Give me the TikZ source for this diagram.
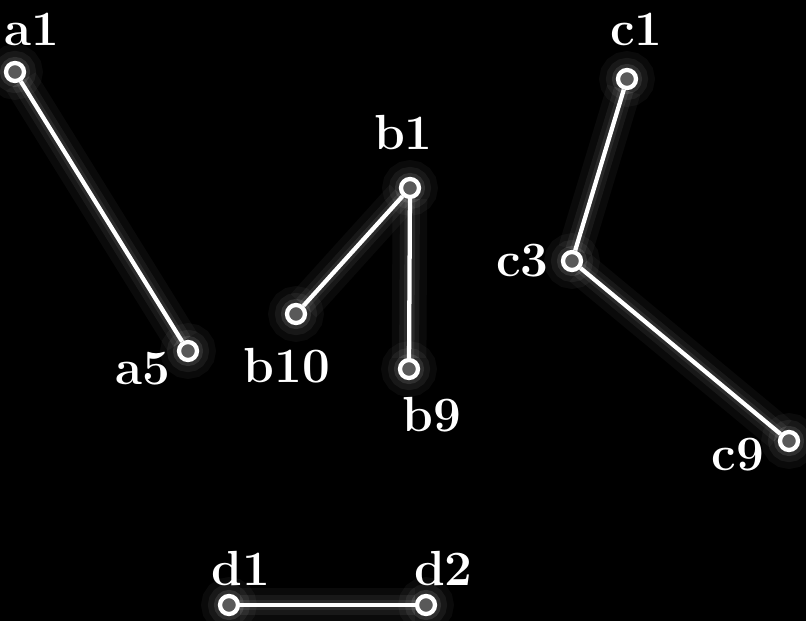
\documentclass[tikz,border=0pt]{standalone}
\usepackage{fontspec}
\usepackage{tikz}
\usetikzlibrary{positioning, backgrounds}

\begin{document}
\begin{tikzpicture}[
    x=0.75pt, y=-0.75pt,
    vertex/.style={circle, draw=white!72, fill=black!65, line width=3.2pt, minimum size=13.5pt, inner sep=0pt,
        preaction={draw=white, draw opacity=0.04, line width=28pt},
        preaction={draw=white, draw opacity=0.06, line width=18pt},
        preaction={draw=white, draw opacity=0.10, line width=9pt}},
    vlabel/.style={text=white!72, font=\bfseries\fontsize{37}{40}\selectfont, inner sep=0pt},
    link/.style={draw=white!50, line width=3.2pt,
        preaction={draw=white, draw opacity=0.04, line width=26pt},
        preaction={draw=white, draw opacity=0.06, line width=15pt},
        preaction={draw=white, draw opacity=0.08, line width=8pt}},
]
    \path[use as bounding box] (0,0) rectangle (806,621);

    % vertices
    \node[vertex] (a1) at (15,72) {};
    \node[vertex] (a5) at (188,351) {};
    \node[vertex] (b1) at (410,188) {};
    \node[vertex] (b10) at (296,314) {};
    \node[vertex] (b9) at (409,369) {};
    \node[vertex] (c1) at (627,79) {};
    \node[vertex] (c3) at (572,261) {};
    \node[vertex] (c9) at (789,441) {};
    \node[vertex] (d1) at (229,605) {};
    \node[vertex] (d2) at (426,605) {};

    % labels
    \node[vlabel, above=11pt of a1, xshift=13pt] (a1t) {a1};
    \node[vlabel, left=5pt of a5, yshift=-13pt] (a5t) {a5};
    \node[vlabel, above=20pt of b1, xshift=-5pt] (b1t) {b1};
    \node[vlabel, below=17pt of b10, xshift=-7pt] (b10t) {b10};
    \node[vlabel, below=13pt of b9, xshift=17pt] (b9t) {b9};
    \node[vlabel, above=16pt of c1, xshift=7pt] (c1t) {c1};
    \node[vlabel, left=9pt of c3] (c3t) {c3};
    \node[vlabel, left=10pt of c9, yshift=-10pt] (c9t) {c9};
    \node[vlabel, above=6pt of d1, xshift=9pt] (d1t) {d1};
    \node[vlabel, above=6pt of d2, xshift=13pt] (d2t) {d2};

    \begin{pgfonlayer}{background}
        \fill[black] (0,0) rectangle (806,621);
        \draw[link] (a1) -- (a5);
        \draw[link] (b1) -- (b10);
        \draw[link] (b1) -- (b9);
        \draw[link] (c1) -- (c3);
        \draw[link] (c3) -- (c9);
        \draw[link] (d1) -- (d2);
    \end{pgfonlayer}
\end{tikzpicture}
\end{document}
